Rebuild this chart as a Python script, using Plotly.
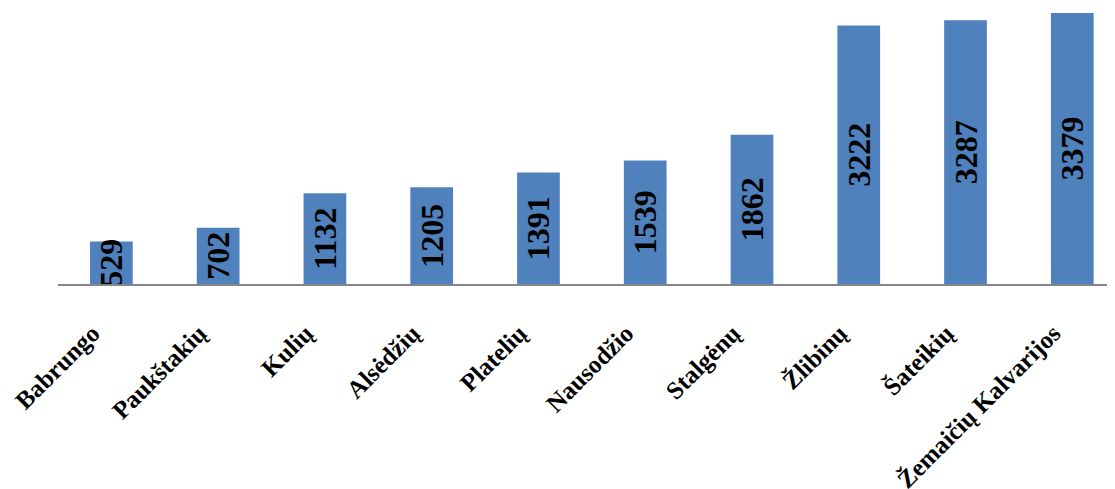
import plotly.graph_objects as go

categories = ["Babrungo", "Paukštakių", "Kulių", "Alsėdžių", "Platelių",
              "Nausodžio", "Stalgėnų", "Žlibinų", "Šateikių", "Žemaičių Kalvarijos"]
values = [529, 702, 1132, 1205, 1391, 1539, 1862, 3222, 3287, 3379]

font_family = "Liberation Serif, Times New Roman, serif"

fig = go.Figure(go.Bar(
    x=categories, y=values,
    marker=dict(color="#4F81BD", line=dict(width=0)),
    width=0.4,
    text=[str(v) for v in values],
    textposition="inside",
    insidetextanchor="middle",
    textangle=-90,
    constraintext="none",
    textfont=dict(family=font_family, size=32, color="black", weight="bold"),
))

fig.update_layout(
    width=1107, height=481,
    margin=dict(l=50, r=0, t=0, b=205),
    paper_bgcolor="white", plot_bgcolor="white",
    showlegend=False,
    xaxis=dict(
        range=[-0.5, 9.4],
        showline=True, linecolor="#868686", linewidth=1.5,
        showgrid=False, ticks="",
        tickangle=-45,
        ticklabelstandoff=23,
        ticklabelshift=-19,
        automargin=False,
        tickfont=dict(family=font_family, size=25, color="black", weight="bold"),
    ),
    yaxis=dict(
        range=[0, 3441],
        visible=False, showgrid=False, zeroline=False,
    ),
)

fig.write_html("out.html")
